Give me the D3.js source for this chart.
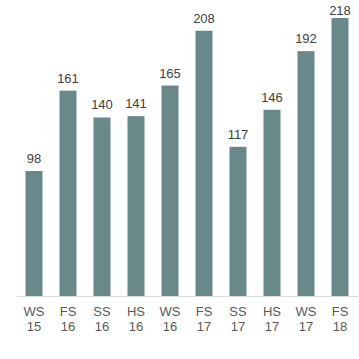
<!DOCTYPE html>
<html>
<head>
<meta charset="utf-8">
<script src="https://cdn.jsdelivr.net/npm/d3@7"></script>
<style>
body{margin:0;background:#fff;}
</style>
</head>
<body>
<div class="box"></div>
<script>
const terms=['WS','FS','SS','HS','WS','FS','SS','HS','WS','FS'];
const years=['15','16','16','16','16','17','17','17','17','18'];
const values=[98,161,140,141,165,208,117,146,192,218];

const data=values.map((v,i)=>({key:i,term:terms[i],year:years[i],value:v}));

const svg=d3.select('.box').append('svg').attr('width',359).attr('height',359).style('background','white');

const x=d3.scaleBand().domain(data.map(d=>d.key)).range([17,357]).paddingInner(0.5).paddingOuter(0.25);
const y=d3.scaleLinear().domain([0,218]).range([296,18]);

svg.selectAll('rect.bar')
  .data(data)
  .enter()
  .append('rect')
  .attr('class','bar')
  .attr('x',d=>x(d.key))
  .attr('width',x.bandwidth())
  .attr('y',d=>y(d.value))
  .attr('height',d=>y(0)-y(d.value))
  .attr('fill','#688889');

// value labels, the top one is pushed down so it stays inside
svg.selectAll('text.val')
  .data(data)
  .enter()
  .append('text')
  .attr('class','val')
  .attr('x',d=>x(d.key)+x.bandwidth()/2)
  .attr('y',d=>Math.max(y(d.value)-8,15))
  .attr('text-anchor','middle')
  .style('font-family','Liberation Sans, Arial, sans-serif')
  .style('font-size','13px')
  .attr('fill','#404040')
  .text(d=>d.value);

// x axis
const gX=svg.append('g').attr('transform','translate(0,296)');
gX.append('line').attr('x1',17).attr('x2',358).attr('y1',0.5).attr('y2',0.5).attr('stroke','#d9d9d9');
const lab=gX.selectAll('text.lab')
  .data(data)
  .enter()
  .append('text')
  .attr('class','lab')
  .attr('text-anchor','middle')
  .style('font-family','Liberation Sans, Arial, sans-serif')
  .style('font-size','13px')
  .attr('fill','#595959');
lab.append('tspan').attr('x',d=>x(d.key)+x.bandwidth()/2).attr('y',20).text(d=>d.term);
lab.append('tspan').attr('x',d=>x(d.key)+x.bandwidth()/2).attr('y',35).text(d=>d.year);
</script>
</body>
</html>
